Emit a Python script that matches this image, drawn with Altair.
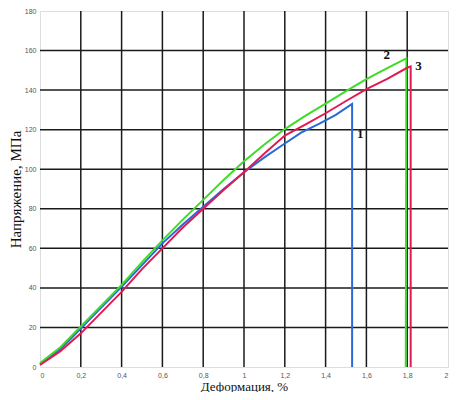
import altair as alt
import pandas as pd

# Curve 1 (blue)
x1 = [0, 0.1, 0.2, 0.3, 0.4, 0.5, 0.6, 0.7, 0.8, 0.9, 1.0, 1.1, 1.2, 1.28, 1.37, 1.45, 1.53, 1.53]
y1 = [1.5, 9, 19.5, 30, 40.5, 51.5, 62.5, 72, 81, 90, 98.5, 106, 113, 118.5, 123, 127.5, 133, 0]
# Curve 2 (green)
x2 = [0, 0.1, 0.2, 0.3, 0.4, 0.5, 0.6, 0.7, 0.8, 0.9, 1.0, 1.1, 1.2, 1.3, 1.4, 1.5, 1.6, 1.7, 1.796, 1.793]
y2 = [2, 10, 20.5, 31, 41.5, 53, 64, 74.5, 84.5, 94.5, 104, 112.5, 120.3, 127, 133.2, 139.5, 145.5, 151, 156, 0]
# Curve 3 (red)
x3 = [0, 0.1, 0.2, 0.3, 0.4, 0.5, 0.6, 0.7, 0.8, 0.9, 1.0, 1.1, 1.2, 1.3, 1.4, 1.5, 1.6, 1.7, 1.8, 1.817, 1.817]
y3 = [1, 8, 17, 27.5, 38, 49.5, 60, 70.5, 80, 89.5, 98.5, 108, 117, 122.5, 128.3, 134.5, 140.5, 145.5, 151.3, 152, 0]

series_names = ["1", "2", "3"]
series_colors = ["#2a6ad8", "#3edc28", "#e01a52"]

# Curve number labels
label_text = ["1", "2", "3"]
label_x = [1.57, 1.70, 1.855]
label_y = [118, 158, 152]

# Axis tick values
x_ticks = [0, 0.2, 0.4, 0.6, 0.8, 1, 1.2, 1.4, 1.6, 1.8, 2]
y_ticks = [0, 20, 40, 60, 80, 100, 120, 140, 160, 180]

rows = []
for name, xs, ys in zip(series_names, [x1, x2, x3], [y1, y2, y3]):
    for i, (xv, yv) in enumerate(zip(xs, ys)):
        rows.append({"s": name, "x": xv, "y": yv, "o": i})
df = pd.DataFrame(rows)
lab = pd.DataFrame({"t": label_text, "x": label_x, "y": label_y})
gx = pd.DataFrame({"v": x_ticks[1:-1]})
gy = pd.DataFrame({"v": y_ticks[1:-1]})

xscale = alt.Scale(domain=[0, 2], nice=False, zero=True)
yscale = alt.Scale(domain=[0, 180], nice=False)

common = dict(
    grid=False,
    ticks=False,
    domain=False,
    labelOverlap=False,
    labelFont="Liberation Sans",
    labelFontSize=7,
    labelColor="#555555",
    titleFont="Liberation Serif",
    titleFontWeight="normal",
    titleColor="#111111",
    labelPadding=4,
)

xaxis = alt.Axis(
    title="Деформация, %",
    values=x_ticks,
    tickCount=11,
    labelExpr="replace(format(datum.value, '.1~f'), '.', ',')",
    titleFontSize=13,
    titlePadding=2,
    **common,
)
yaxis = alt.Axis(
    title="Напряжение, МПа",
    values=y_ticks,
    tickCount=10,
    titleFontSize=15,
    titlePadding=1,
    **common,
)

grid_v = alt.Chart(gx).mark_rule(color="#1a1a1a", strokeWidth=1.5).encode(
    x=alt.X("v:Q", scale=xscale, axis=xaxis)
)
grid_h = alt.Chart(gy).mark_rule(color="#1a1a1a", strokeWidth=1.5).encode(
    y=alt.Y("v:Q", scale=yscale, axis=yaxis)
)

lines = alt.Chart(df).mark_line(strokeWidth=2).encode(
    x=alt.X("x:Q", scale=xscale, axis=xaxis),
    y=alt.Y("y:Q", scale=yscale, axis=yaxis),
    color=alt.Color("s:N", scale=alt.Scale(domain=series_names, range=series_colors), legend=None),
    order="o:Q",
)

labels = alt.Chart(lab).mark_text(
    font="Liberation Serif", fontSize=13, fontWeight="bold", color="#111111"
).encode(
    x=alt.X("x:Q", scale=xscale, axis=xaxis),
    y=alt.Y("y:Q", scale=yscale, axis=yaxis),
    text="t:N",
)

chart = alt.layer(grid_v, grid_h, lines, labels).properties(
    width=408,
    height=356,
    autosize=alt.AutoSizeParams(type="none"),
    padding={"left": 32, "top": 3, "right": 4, "bottom": 25},
).configure_view(stroke="#aaaaaa", strokeWidth=1.2).configure(background="white")

chart.save("out.html", embed_options={"renderer": "svg", "actions": False})
